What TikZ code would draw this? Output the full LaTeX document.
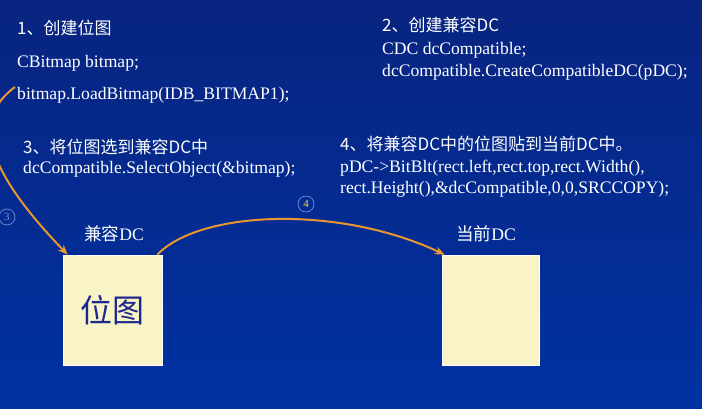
\documentclass[tikz,border=0pt]{standalone}
\usepackage{fontspec}
\setmainfont{Liberation Serif}
\newfontfamily\cjk{Noto Sans CJK SC}
\usepackage{xcolor}
\usetikzlibrary{arrows.meta, positioning}

\definecolor{slidetop}{RGB}{8,36,128}
\definecolor{slidebot}{RGB}{0,50,162}
\definecolor{arroworange}{RGB}{232,150,46}
\definecolor{paper}{RGB}{248,244,200}
\definecolor{inkblue}{RGB}{30,40,140}
\definecolor{ringgray}{RGB}{120,140,200}
\definecolor{ringyellow}{RGB}{225,215,90}

\tikzset{
  heading/.style={anchor=base west, text=white, inner sep=0pt, font=\cjk\fontsize{17}{20}\selectfont},
  code/.style={anchor=base west, text=white, inner sep=0pt, font=\fontsize{17.6}{20}\selectfont},
  dcbox/.style={fill=paper, draw=white, line width=0.6pt, minimum width=99pt, minimum height=110pt, inner sep=0pt},
  dclabel/.style={anchor=base, text=white, inner sep=0pt, font=\fontsize{17.6}{20}\selectfont},
  flow/.style={draw=arroworange, line width=2pt, -{Stealth[length=10pt,width=8pt]}},
  stepno/.style={circle, draw=ringgray, line width=0.7pt, inner sep=0pt, minimum size=16pt, font=\fontsize{11}{11}\selectfont}
}

\begin{document}
\begin{tikzpicture}[x=1pt, y=-1pt]
  \shade[top color=slidetop, bottom color=slidebot] (0,0) rectangle (702,408);
  \useasboundingbox (0,0) rectangle (702,408);

  % step 1
  \node[heading] (s1head) at (17,34) {1、创建位图};
  \node[code] (s1a) at (17,67) {CBitmap bitmap;};
  \node[code] (s1b) at (17,99) {bitmap.LoadBitmap(IDB\_BITMAP1);};

  % step 2
  \node[heading] (s2head) at (382,31) {2、创建兼容DC};
  \node[code] (s2a) at (382,54) {CDC dcCompatible;};
  \node[code] (s2b) at (382,76) {dcCompatible.CreateCompatibleDC(pDC);};

  % step 3
  \node[heading] (s3head) at (23,153) {3、将位图选到兼容DC中};
  \node[code] (s3a) at (23,173) {dcCompatible.SelectObject(\&bitmap);};

  % step 4
  \node[heading] (s4head) at (340,150) {4、将兼容DC中的位图贴到当前DC中。};
  \node[code] (s4a) at (340,172) {pDC->BitBlt(rect.left,rect.top,rect.Width(),};
  \node[code] (s4b) at (340,193) {rect.Height(),\&dcCompatible,0,0,SRCCOPY);};

  % the two DCs
  \node[dcbox, text=inkblue, font=\cjk\fontsize{32}{32}\selectfont] (bmpdc) at (112.5,310) {位图};
  \node[dcbox, minimum width=97pt] (curdc) at (490.5,310) {};
  \node[dclabel] (bmplabel) at (114,240) {{\cjk 兼容}DC};
  \node[dclabel] (curlabel) at (486,240) {{\cjk 当前}DC};

  % arrows
  \coordinate (loadline) at (15,87);
  \draw[flow] (loadline) .. controls (-30,120) and (-12,172) .. ([xshift=5pt]bmpdc.north west);
  \draw[flow] ([xshift=-5pt]bmpdc.north east) .. controls (200,210) and (340,205) .. ([xshift=3pt]curdc.north west);
  \node[stepno, text=ringgray] (no3) at (7,217) {3};
  \node[stepno, text=ringyellow] (no4) at (306,204) {4};
\end{tikzpicture}
\end{document}
